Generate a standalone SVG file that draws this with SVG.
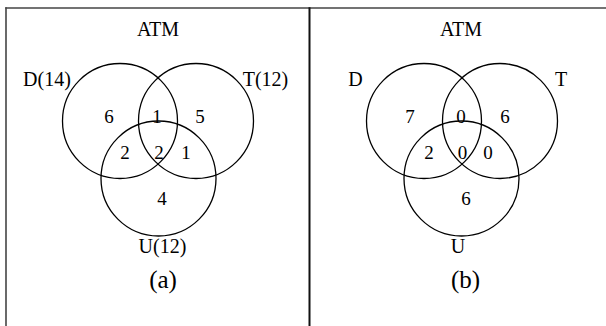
<svg xmlns="http://www.w3.org/2000/svg" width="606" height="326" viewBox="0 0 606 326">
<style>
.c{fill:none;stroke:#000;stroke-width:1.3}
.t{font-family:"Liberation Serif","Times New Roman",serif;fill:#000;text-anchor:middle}
.l{font-size:20px}
.n{font-size:19px}
.cap{font-size:25px}
</style>
<rect width="606" height="326" fill="#fff"/>
<g id="frame">
<line x1="5.3" y1="8" x2="606" y2="8" stroke="#444" stroke-width="1.6"/>
<line x1="6" y1="7.2" x2="6" y2="326" stroke="#444" stroke-width="1.6"/>
<line x1="309.5" y1="7.2" x2="309.5" y2="326" stroke="#111" stroke-width="2"/>
</g>
<g id="panel-a">
<text class="t l" x="158" y="36">ATM</text>
<g id="a-D"><circle class="c" cx="120" cy="121" r="57.5"/><text class="t l" x="47" y="86">D(14)</text></g>
<g id="a-T"><circle class="c" cx="196" cy="121" r="57.5"/><text class="t l" x="265.5" y="86">T(12)</text></g>
<g id="a-U"><circle class="c" cx="158.5" cy="178.5" r="57.5"/><text class="t l" x="162.5" y="253">U(12)</text></g>
<text class="t n" x="109" y="123">6</text>
<text class="t n" x="157" y="123">1</text>
<text class="t n" x="200" y="123">5</text>
<text class="t n" x="125" y="159">2</text>
<text class="t n" x="159" y="159">2</text>
<text class="t n" x="186" y="159">1</text>
<text class="t n" x="162" y="205">4</text>
<text class="t cap" x="163" y="288">(a)</text>
</g>
<g id="panel-b">
<text class="t l" x="461" y="36">ATM</text>
<g id="b-D"><circle class="c" cx="424" cy="121" r="57.5"/><text class="t l" x="355.5" y="86">D</text></g>
<g id="b-T"><circle class="c" cx="500" cy="121" r="57.5"/><text class="t l" x="561" y="86">T</text></g>
<g id="b-U"><circle class="c" cx="461.5" cy="178.5" r="57.5"/><text class="t l" x="458" y="253">U</text></g>
<text class="t n" x="410" y="123">7</text>
<text class="t n" x="461" y="123">0</text>
<text class="t n" x="505" y="123">6</text>
<text class="t n" x="429" y="159">2</text>
<text class="t n" x="462.5" y="159">0</text>
<text class="t n" x="488" y="159">0</text>
<text class="t n" x="466" y="205">6</text>
<text class="t cap" x="465.5" y="288">(b)</text>
</g>
</svg>
